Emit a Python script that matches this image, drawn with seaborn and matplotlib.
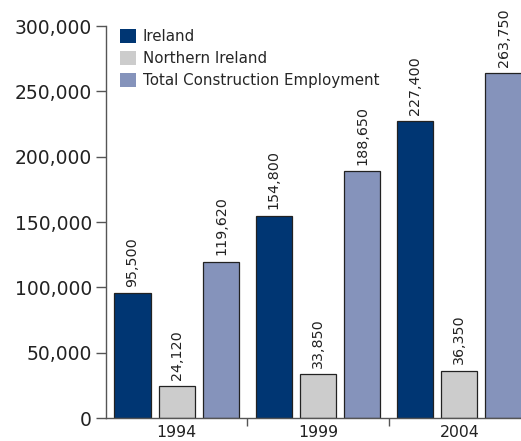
import pandas as pd
import seaborn as sns
import matplotlib.pyplot as plt
from matplotlib.ticker import FuncFormatter, FixedLocator

years = ['1994', '1999', '2004']
series = ['Ireland', 'Northern Ireland', 'Total Construction Employment']
ireland = [95500, 154800, 227400]
northern_ireland = [24120, 33850, 36350]
total = [119620, 188650, 263750]
colors = ['#003673', '#cccccc', '#8593bb']

df = pd.DataFrame({
    'year': years * 3,
    'series': [s for s in series for _ in years],
    'value': ireland + northern_ireland + total,
})

sns.set_style('white')
plt.rcParams['font.family'] = ['DejaVu Sans']

fig = plt.figure(figsize=(5.21, 4.41), dpi=100)
ax = fig.add_axes([106 / 521, 23 / 441, (530 - 106) / 521, (415 - 23) / 441])

sns.barplot(data=df, x='year', y='value', hue='series', palette=colors,
            saturation=1, width=0.94, gap=0.18, edgecolor='#222222',
            linewidth=0.9, ax=ax)

ax.set_xlim(-0.5, 2.5)
ax.set_ylim(0, 300000)
ax.set_xlabel('')
ax.set_ylabel('')

for c in ax.containers:
    ax.bar_label(c, labels=[f'{int(v):,}' for v in c.datavalues], rotation=90,
                 padding=4.5, fontsize=10.3, color='#222222')

ax.set_yticks(range(0, 300001, 50000))
ax.yaxis.set_major_formatter(FuncFormatter(lambda v, p: f'{int(v):,}'))
ax.tick_params(axis='y', left=True, length=7, width=1, color='#555555',
               labelsize=13.5, labelcolor='#222222', pad=3)
ax.tick_params(axis='x', which='major', bottom=False, labelsize=11.3,
               labelcolor='#222222', pad=1.5)
ax.xaxis.set_minor_locator(FixedLocator([0.5, 1.5]))
ax.tick_params(axis='x', which='minor', bottom=True, length=6, width=1,
               color='#555555')

for s in ['top', 'right']:
    ax.spines[s].set_visible(False)
for s in ['left', 'bottom']:
    ax.spines[s].set_color('#555555')
    ax.spines[s].set_linewidth(1)

handles, labels = ax.get_legend_handles_labels()
for h in handles:
    h.set_edgecolor('none')
ax.legend(handles, labels, loc='upper left', bbox_to_anchor=(120 / 521, 1 - 29 / 441),
          bbox_transform=fig.transFigure, frameon=False, fontsize=10.8,
          handlelength=1.07, handleheight=1.07, handletextpad=0.45,
          labelspacing=0.45, borderpad=0, borderaxespad=0)

fig.savefig('out.png', dpi=100)
